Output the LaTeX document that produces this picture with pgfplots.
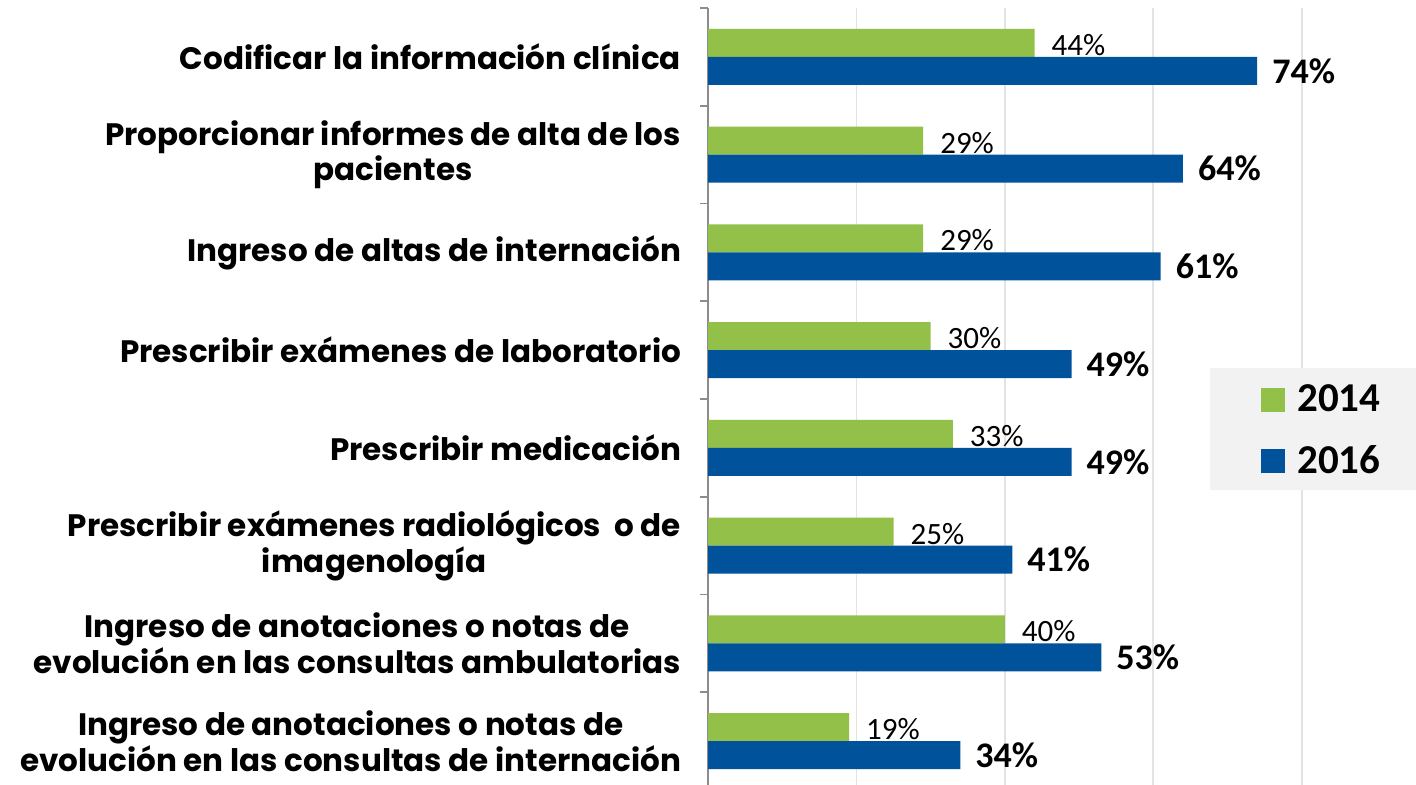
\documentclass[border=0pt]{standalone}
\usepackage{fontspec}
\usepackage{pgfplots}
\pgfplotsset{compat=1.18}
\newfontfamily\catfont{Poppins}
\newfontfamily\valfont{Carlito}
\definecolor{cgreen}{HTML}{92C048}
\definecolor{cblue}{HTML}{00529B}
\definecolor{axgray}{HTML}{8C8C8C}
\definecolor{gridgray}{HTML}{E3E3E3}
\begin{document}
\begin{tikzpicture}
\useasboundingbox (0,0) rectangle (708pt,392.5pt);
\begin{axis}[
  at={(354pt,0pt)}, anchor=south west,
  scale only axis, width=354pt, height=388.5pt,
  xmin=0, xmax=95.4, ymin=-0.449, ymax=7.5,
  xbar, bar width=14pt,
  axis lines*=left,
  x axis line style={draw=none},
  y axis line style={axgray, line width=0.8pt},
  xtick={20,40,60,80}, xticklabels={},
  xmajorgrids, grid style={gridgray, line width=0.8pt},
  x tick style={draw=none},
  ytick={0,...,7},
  minor ytick={0.5,1.5,...,7.5},
  major tick length=0pt, minor tick length=4pt,
  tick align=outside,
  y tick style={axgray, line width=0.8pt},
  yticklabels={
    {Ingreso de anotaciones o notas de\\evolución en las consultas de internación},
    {Ingreso de anotaciones o notas de\\evolución en las consultas ambulatorias},
    {Prescribir exámenes radiológicos\ \ o de\\imagenología},
    {Prescribir medicación},
    {Prescribir exámenes de laboratorio},
    {Ingreso de altas de internación},
    {Proporcionar informes de alta de los\\pacientes},
    {Codificar la información clínica}},
  yticklabel style={align=center, font=\catfont\bfseries\fontsize{15.5}{16.5}\selectfont, xshift=-10pt},
  legend image code/.code={\fill[#1] (0pt,-6pt) rectangle (12pt,6pt);},
  legend style={at={(rel axis cs:0.8685,0.456)}, anchor=center, draw=none, fill=none,
    font=\valfont\bfseries\fontsize{20.5}{24}\selectfont, row sep=11.5pt,
    /tikz/every odd column/.append style={column sep=4pt}},
  legend cell align=left,
]
\addplot[fill=cgreen, draw=none, bar shift=7pt,
  nodes near coords={\pgfmathprintnumber[assume math mode=true]{\pgfplotspointmeta}\%},
  nodes near coords style={font=\valfont\fontsize{15.5}{18}\selectfont, anchor=west, xshift=5pt, yshift=-1pt, black}]
  coordinates {(19,0) (40,1) (25,2) (33,3) (30,4) (29,5) (29,6) (44,7)};
\addplot[fill=cblue, draw=none, bar shift=-7pt,
  nodes near coords={\pgfmathprintnumber[assume math mode=true]{\pgfplotspointmeta}\%},
  nodes near coords style={font=\valfont\bfseries\fontsize{18}{21}\selectfont, anchor=west, xshift=4pt, black}]
  coordinates {(34,0) (53,1) (41,2) (49,3) (49,4) (61,5) (64,6) (74,7)};
\fill[black!5] (rel axis cs:0.709,0.380) rectangle (rel axis cs:1.05,0.537);
\legend{2014,2016}
\end{axis}
\end{tikzpicture}
\end{document}
